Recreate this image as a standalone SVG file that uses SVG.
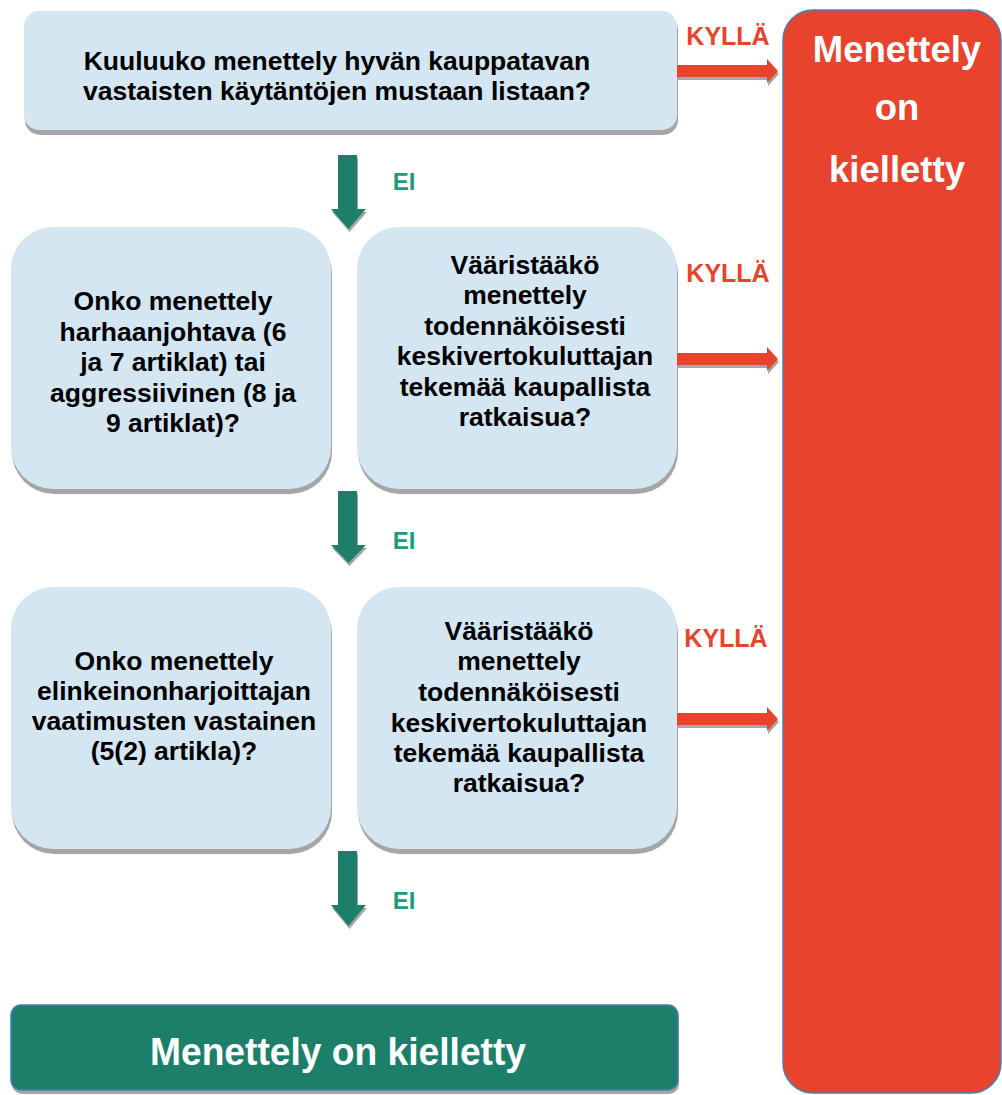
<svg xmlns="http://www.w3.org/2000/svg" width="1002" height="1095" viewBox="0 0 1002 1095">
<style>
.box{fill:#d4e6f2}
.sh{fill:#a6a6a6}
.q{font-family:"Liberation Sans",Arial,sans-serif;font-weight:bold;font-size:26.5px;fill:#000;text-anchor:middle}
.yes{font-family:"Liberation Sans",Arial,sans-serif;font-weight:bold;font-size:25px;fill:#e8432c;text-anchor:middle}
.no{font-family:"Liberation Sans",Arial,sans-serif;font-weight:bold;font-size:24px;fill:#1e9b7c;text-anchor:middle}
.wt{font-family:"Liberation Sans",Arial,sans-serif;font-weight:bold;fill:#fff;text-anchor:middle}
.ga{fill:#1d7f6a}
.ra{fill:#e8432c}
</style>
<rect width="1002" height="1095" fill="#fff"/>

<g id="n-result-right">
<rect x="783" y="10" width="218" height="1083" rx="30" fill="#e8432c" stroke="#4a7ebb" stroke-width="1.5"/>
<text class="wt" font-size="36.5" x="897" y="62">Menettely</text>
<text class="wt" font-size="36.5" x="897" y="120">on</text>
<text class="wt" font-size="36.5" x="897" y="182">kielletty</text>
</g>

<g id="n-top">
<rect class="sh" x="25" y="15" width="653" height="120" rx="15"/>
<rect class="box" x="24" y="11" width="653" height="119" rx="15"/>
<text class="q" x="337" y="70">Kuuluuko menettely hyvän kauppatavan</text>
<text class="q" x="337" y="100">vastaisten käytäntöjen mustaan listaan?</text>
</g>

<g id="n-misleading">
<rect class="sh" x="12" y="232" width="320" height="262" rx="42"/>
<rect class="box" x="11" y="227" width="320" height="262" rx="42"/>
<text class="q" x="173" y="310">Onko menettely</text>
<text class="q" x="173" y="340.5">harhaanjohtava (6</text>
<text class="q" x="173" y="371">ja 7 artiklat) tai</text>
<text class="q" x="173" y="401.5">aggressiivinen (8 ja</text>
<text class="q" x="173" y="432">9 artiklat)?</text>
</g>

<g id="n-distort1">
<rect class="sh" x="358" y="232" width="320" height="262" rx="42"/>
<rect class="box" x="357" y="227" width="320" height="262" rx="42"/>
<text class="q" x="525" y="274">Vääristääkö</text>
<text class="q" x="525" y="304.4">menettely</text>
<text class="q" x="525" y="334.8">todennäköisesti</text>
<text class="q" x="525" y="365.2">keskivertokuluttajan</text>
<text class="q" x="525" y="395.6">tekemää kaupallista</text>
<text class="q" x="525" y="426">ratkaisua?</text>
</g>

<g id="n-diligence">
<rect class="sh" x="12" y="592" width="320" height="262" rx="42"/>
<rect class="box" x="11" y="587" width="320" height="262" rx="42"/>
<text class="q" x="174" y="670">Onko menettely</text>
<text class="q" x="174" y="700">elinkeinonharjoittajan</text>
<text class="q" x="174" y="730">vaatimusten vastainen</text>
<text class="q" x="174" y="760">(5(2) artikla)?</text>
</g>

<g id="n-distort2">
<rect class="sh" x="358" y="592" width="320" height="262" rx="42"/>
<rect class="box" x="357" y="587" width="320" height="262" rx="42"/>
<text class="q" x="519" y="640">Vääristääkö</text>
<text class="q" x="519" y="670">menettely</text>
<text class="q" x="519" y="701">todennäköisesti</text>
<text class="q" x="519" y="731.5">keskivertokuluttajan</text>
<text class="q" x="519" y="762">tekemää kaupallista</text>
<text class="q" x="519" y="792">ratkaisua?</text>
</g>

<g id="n-result-bottom">
<rect class="sh" x="12" y="1009" width="667" height="85" rx="10"/>
<rect x="11" y="1005" width="667" height="85" rx="10" fill="#1d7f6a" stroke="#4a7ebb" stroke-width="1.5"/>
<text class="wt" font-size="38" x="338" y="1065" textLength="376" lengthAdjust="spacingAndGlyphs">Menettely on kielletty</text>
</g>

<g id="connectors">
<g id="e-no1">
<polygon class="sh" points="339,158 358,158 358,212 367,212 349.5,232 332,212 339,212"/>
<polygon class="ga" points="338,155 357,155 357,209 366,209 348.5,229 331,209 338,209"/>
<text class="no" x="404" y="190">EI</text>
</g>
<g id="e-no2">
<polygon class="sh" points="339,494 358,494 358,548 367,548 349.5,566 332,548 339,548"/>
<polygon class="ga" points="338,491 357,491 357,545 366,545 348.5,563 331,545 338,545"/>
<text class="no" x="404" y="549">EI</text>
</g>
<g id="e-no3">
<polygon class="sh" points="339,854 358,854 358,908 367,908 349.5,929 332,908 339,908"/>
<polygon class="ga" points="338,851 357,851 357,905 366,905 348.5,926 331,905 338,905"/>
<text class="no" x="404" y="909">EI</text>
</g>
<g id="e-yes1">
<polygon class="sh" points="678,68 768,68 768,62 779,74 768,86 768,80 678,80"/>
<polygon class="ra" points="677,65 767,65 767,59 778,71 767,83 767,77 677,77"/>
<text class="yes" x="728" y="45">KYLLÄ</text>
</g>
<g id="e-yes2">
<polygon class="sh" points="678,356 768,356 768,350 779,362 768,374 768,368 678,368"/>
<polygon class="ra" points="677,353 767,353 767,347 778,359 767,371 767,365 677,365"/>
<text class="yes" x="728" y="282">KYLLÄ</text>
</g>
<g id="e-yes3">
<polygon class="sh" points="678,716 768,716 768,710 779,722 768,734 768,728 678,728"/>
<polygon class="ra" points="677,713 767,713 767,707 778,719 767,731 767,725 677,725"/>
<text class="yes" x="726" y="647">KYLLÄ</text>
</g>
</g>
</svg>
